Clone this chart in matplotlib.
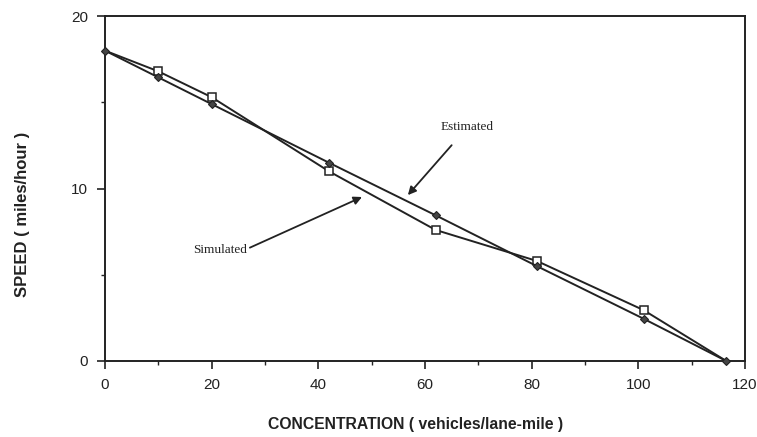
import matplotlib
matplotlib.use("Agg")
import matplotlib.pyplot as plt
from matplotlib.ticker import MultipleLocator

conc_est = [0, 10, 20, 42, 62, 81, 101, 116.5]
speed_est = [18.0, 16.45, 14.9, 11.5, 8.45, 5.5, 2.45, 0.0]
conc_sim = [0, 10, 20, 42, 62, 81, 101, 116.5]
speed_sim = [18.0, 16.8, 15.3, 11.0, 7.6, 5.8, 2.95, 0.0]

xticks = [0, 20, 40, 60, 80, 100, 120]
yticks = [0, 10, 20]

fig = plt.figure(figsize=(7.57, 4.37), dpi=100)
ax = fig.add_axes([0.1387, 0.174, 0.8453, 0.789])

col = "#222222"
ax.plot(conc_sim, speed_sim, color=col, lw=1.4, marker="s", ms=5.5,
        mfc="white", mec=col, mew=1.1, zorder=3,
        markevery=list(range(1, len(conc_sim) - 1)))
ax.plot(conc_est, speed_est, color=col, lw=1.4, marker="D", ms=4,
        mfc="#444444", mec=col, mew=0.8, zorder=4, clip_on=False)

ax.set_xlim(0, 120)
ax.set_ylim(0, 20)
ax.set_xticks(xticks)
ax.set_yticks(yticks)
ax.xaxis.set_minor_locator(MultipleLocator(10))
ax.yaxis.set_minor_locator(MultipleLocator(5))
ax.tick_params(which="major", direction="out", length=6, width=1.2, colors=col,
               labelsize=11, pad=6)
ax.tick_params(which="minor", direction="out", length=3, width=1.0, colors=col)
for lab in ax.get_xticklabels() + ax.get_yticklabels():
    lab.set_family("Liberation Sans")
for s in ax.spines.values():
    s.set_linewidth(1.4)
    s.set_color(col)

fig.text(0.549, 0.0275, "CONCENTRATION ( vehicles/lane-mile )", fontsize=11.3,
         fontweight="bold", family="Liberation Sans", color=col,
         ha="center", va="center")
fig.text(23 / 757, 1 - 214 / 437, "SPEED ( miles/hour )", fontsize=12,
         fontweight="bold", family="Liberation Sans", color=col,
         ha="center", va="center", rotation=90)

ax.annotate("Estimated", xy=(56.8, 9.62), xytext=(68.0, 13.57),
            ha="center", va="center", fontsize=9.5, family="Liberation Serif",
            color=col,
            arrowprops=dict(arrowstyle="-|>", color=col, lw=1.3,
                            mutation_scale=12, shrinkA=9, shrinkB=0))
ax.annotate("Simulated", xy=(48.2, 9.51), xytext=(21.6, 6.43),
            ha="center", va="center", fontsize=9.5, family="Liberation Serif",
            color=col,
            arrowprops=dict(arrowstyle="-|>", color=col, lw=1.3,
                            mutation_scale=12, shrinkA=0, shrinkB=0,
                            relpos=(1.0, 0.6)))

fig.savefig("out.png", dpi=100)
